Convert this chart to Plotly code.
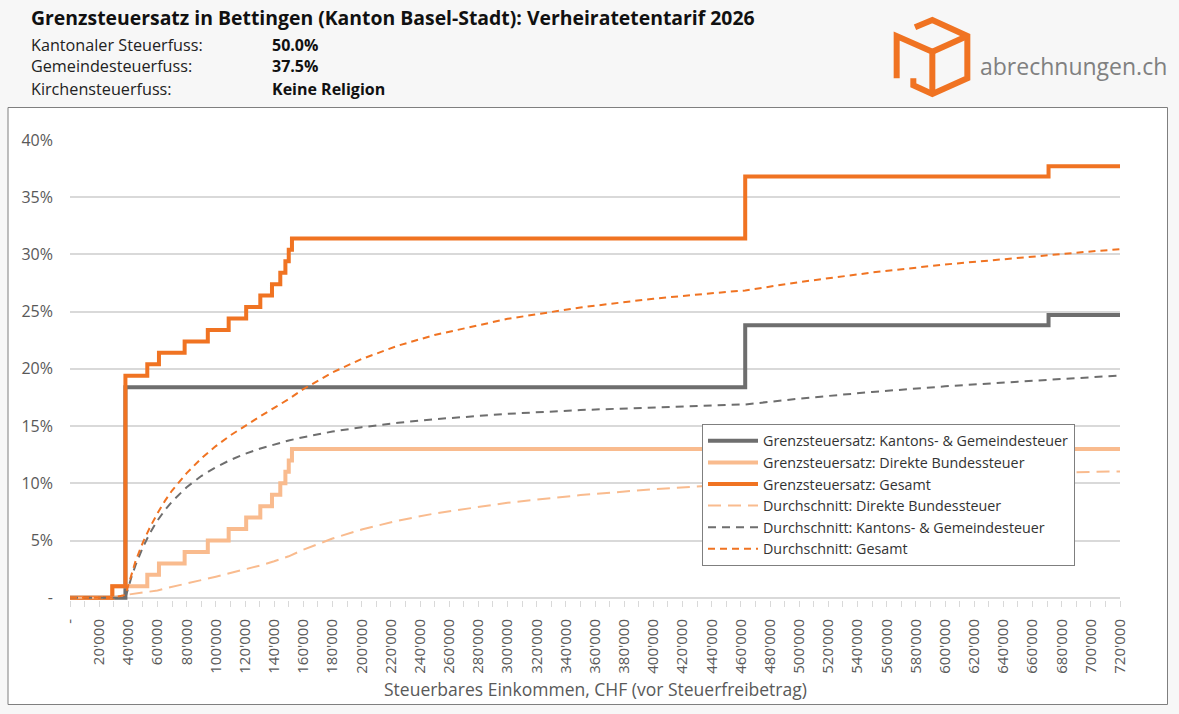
import plotly.graph_objects as go

# ---------------- data ----------------
# Marginal rates (step functions): income thresholds (CHF) and rate (%) from that threshold on
kg_x = [0, 38000, 463000, 671000, 720000]
kg_rate = [0, 18.4, 23.8, 24.7, 24.7]

fed_x = [0, 29000, 53000, 61000, 78600, 94500, 108800, 120800, 130500, 138500,
         144200, 147700, 150000, 152200, 720000]
fed_rate = [0, 1, 2, 3, 4, 5, 6, 7, 8, 9, 10, 11, 12, 13, 13]

tot_x = [0, 29000, 38000, 53000, 61000, 78600, 94500, 108800, 120800, 130500,
         138500, 144200, 147700, 150000, 152200, 463000, 671000, 720000]
tot_rate = [0, 1, 19.4, 20.4, 21.4, 22.4, 23.4, 24.4, 25.4, 26.4,
            27.4, 28.4, 29.4, 30.4, 31.4, 36.8, 37.7, 37.7]

# Average rates (%)
avg_x = [0, 29000, 38000, 42000, 45000, 50000, 55000, 60000, 65000, 70000, 80000,
         90000, 100000, 110000, 120000, 130000, 140000, 150000, 160000, 180000,
         200000, 225000, 250000, 300000, 350000, 400000, 450000, 463000, 500000,
         550000, 600000, 650000, 671000, 700000, 720000]
avg_fed = [0, 0, 0.24, 0.31, 0.36, 0.42, 0.51, 0.63, 0.80, 0.96, 1.23,
           1.54, 1.84, 2.15, 2.46, 2.80, 3.18, 3.62, 4.20, 5.17,
           5.96, 6.74, 7.36, 8.30, 8.97, 9.48, 9.87, 9.96, 10.18,
           10.44, 10.65, 10.83, 10.90, 10.99, 11.04]
avg_kg = [0, 0, 0, 1.75, 2.86, 4.42, 5.69, 6.75, 7.64, 8.41, 9.66,
          10.63, 11.41, 12.04, 12.57, 13.02, 13.41, 13.74, 14.03, 14.52,
          14.90, 15.29, 15.60, 16.07, 16.40, 16.65, 16.85, 16.89, 17.40,
          17.98, 18.47, 18.88, 19.03, 19.27, 19.42]
avg_tot = [0, 0, 0.24, 2.06, 3.22, 4.84, 6.20, 7.38, 8.44, 9.37, 10.89,
           12.17, 13.25, 14.19, 15.03, 15.82, 16.59, 17.36, 18.23, 19.69,
           20.86, 22.03, 22.96, 24.37, 25.37, 26.13, 26.72, 26.85, 27.58,
           28.42, 29.12, 29.71, 29.93, 30.26, 30.46]

x_tickvals = list(range(0, 720001, 20000))
x_ticktext = ["-"] + [f"{v // 1000}'000" for v in x_tickvals[1:]]
y_tickvals = [0, 5, 10, 15, 20, 25, 30, 35, 40]
y_ticktext = ["-", "5%", "10%", "15%", "20%", "25%", "30%", "35%", "40%"]

# ---------------- styling ----------------
W, H = 1179, 714
ML, MR, MT, MB = 70, 59, 140, 114
PW = W - ML - MR
PH = H - MT - MB


def px(x):
    return (x - ML) / PW


def py(y):
    return (H - MB - y) / PH


GREY = "#6e6e6e"
LIGHT = "#f9bb8e"
ORANGE = "#f07322"
FONT = "Open Sans"
TXT = "#595959"

fig = go.Figure()

fig.add_trace(go.Scatter(x=kg_x, y=kg_rate, mode="lines", line_shape="hv",
                         line=dict(color=GREY, width=4),
                         name="Grenzsteuersatz: Kantons- & Gemeindesteuer"))
fig.add_trace(go.Scatter(x=fed_x, y=fed_rate, mode="lines", line_shape="hv",
                         line=dict(color=LIGHT, width=4),
                         name="Grenzsteuersatz: Direkte Bundessteuer"))
fig.add_trace(go.Scatter(x=tot_x, y=tot_rate, mode="lines", line_shape="hv",
                         line=dict(color=ORANGE, width=4),
                         name="Grenzsteuersatz: Gesamt"))
fig.add_trace(go.Scatter(x=avg_x, y=avg_fed, mode="lines",
                         line=dict(color=LIGHT, width=2, dash="13px,7px"),
                         name="Durchschnitt: Direkte Bundessteuer"))
fig.add_trace(go.Scatter(x=avg_x, y=avg_kg, mode="lines",
                         line=dict(color=GREY, width=2, dash="8px,6px"),
                         name="Durchschnitt: Kantons- & Gemeindesteuer"))
fig.add_trace(go.Scatter(x=avg_x, y=avg_tot, mode="lines",
                         line=dict(color=ORANGE, width=2, dash="7px,5px"),
                         name="Durchschnitt: Gesamt"))

# chart box
shapes = [dict(type="rect", xref="paper", yref="paper", layer="below",
               x0=px(8), x1=px(1167.5), y0=py(704.5), y1=py(107.5),
               fillcolor="white", line=dict(color="#7f7f7f", width=1))]

# logo (cube outline)
def zp(zx, zy):
    return px(880 + zx / 3), py(10 + zy / 3)


def path(pts):
    s = ""
    for i, (a, b) in enumerate(pts):
        X, Y = zp(a, b)
        s += ("M" if i == 0 else "L") + f"{X:.5f},{Y:.5f} "
    return s.strip()


logo_paths = [
    [(105, 52), (157, 30), (262, 78), (262, 205), (157, 252), (100, 226), (100, 205)],
    [(50, 205), (50, 78), (157, 125), (157, 252)],
    [(157, 125), (262, 78)],
]
for p in logo_paths:
    shapes.append(dict(type="path", xref="paper", yref="paper", path=path(p),
                       line=dict(color=ORANGE, width=6), layer="above"))

annotations = [
    dict(text="<b>Grenzsteuersatz in Bettingen (Kanton Basel-Stadt): Verheiratetentarif 2026</b>",
         x=px(29), y=py(18), xanchor="left", yanchor="middle",
         font=dict(family=FONT, size=19.4, color="#111111")),
    dict(text="Kantonaler Steuerfuss:", x=px(29), y=py(45), xanchor="left", yanchor="middle",
         font=dict(family=FONT, size=16.2, color="#222222")),
    dict(text="Gemeindesteuerfuss:", x=px(29), y=py(66), xanchor="left", yanchor="middle",
         font=dict(family=FONT, size=16.2, color="#222222")),
    dict(text="Kirchensteuerfuss:", x=px(29), y=py(89), xanchor="left", yanchor="middle",
         font=dict(family=FONT, size=16.2, color="#222222")),
    dict(text="<b>50.0%</b>", x=px(270), y=py(45), xanchor="left", yanchor="middle",
         font=dict(family=FONT, size=16, color="#111111")),
    dict(text="<b>37.5%</b>", x=px(270), y=py(66), xanchor="left", yanchor="middle",
         font=dict(family=FONT, size=16, color="#111111")),
    dict(text="<b>Keine Religion</b>", x=px(270), y=py(89), xanchor="left", yanchor="middle",
         font=dict(family=FONT, size=16, color="#111111")),
    dict(text="abrechnungen.ch", x=px(978), y=py(66), xanchor="left", yanchor="middle",
         font=dict(family="Open Sans", size=23, color="#808080")),
    dict(text="Steuerbares Einkommen, CHF (vor Steuerfreibetrag)", x=px(595), y=py(689),
         xanchor="center", yanchor="middle",
         font=dict(family=FONT, size=17.5, color=TXT)),
]
for a in annotations:
    a.update(xref="paper", yref="paper", showarrow=False)

fig.update_layout(
    width=W, height=H,
    margin=dict(l=ML, r=MR, t=MT, b=MB, pad=0),
    paper_bgcolor="#f7f7f7",
    plot_bgcolor="white",
    shapes=shapes,
    annotations=annotations,
    showlegend=True,
    legend=dict(x=px(702), y=py(424), xanchor="left", yanchor="top",
                bgcolor="white", bordercolor="#7f7f7f", borderwidth=1,
                font=dict(family=FONT, size=14.3, color="#333333"),
                tracegroupgap=0, itemwidth=50),
    xaxis=dict(range=[0, 720000], tickmode="array", tickvals=x_tickvals,
               ticktext=x_ticktext, tickangle=-90, showgrid=False, zeroline=False,
               showline=False, ticks="outside", ticklen=6, tickcolor="#d9d9d9",
               tickwidth=1, ticklabelstandoff=6,
               minor=dict(ticks="outside", ticklen=6, tickcolor="#d9d9d9",
                          tickmode="linear", tick0=0, dtick=10000, showgrid=False),
               tickfont=dict(family=FONT, size=15, color=TXT)),
    yaxis=dict(range=[-0.2, 40], tickmode="array", tickvals=y_tickvals,
               ticktext=y_ticktext, showgrid=True, gridcolor="#d9d9d9", gridwidth=1.5,
               zeroline=True, zerolinecolor="#d9d9d9", zerolinewidth=1.5,
               showline=False, ticks="", ticklabelstandoff=16,
               tickfont=dict(family=FONT, size=16, color=TXT)),
)

fig.write_html("out.html")
